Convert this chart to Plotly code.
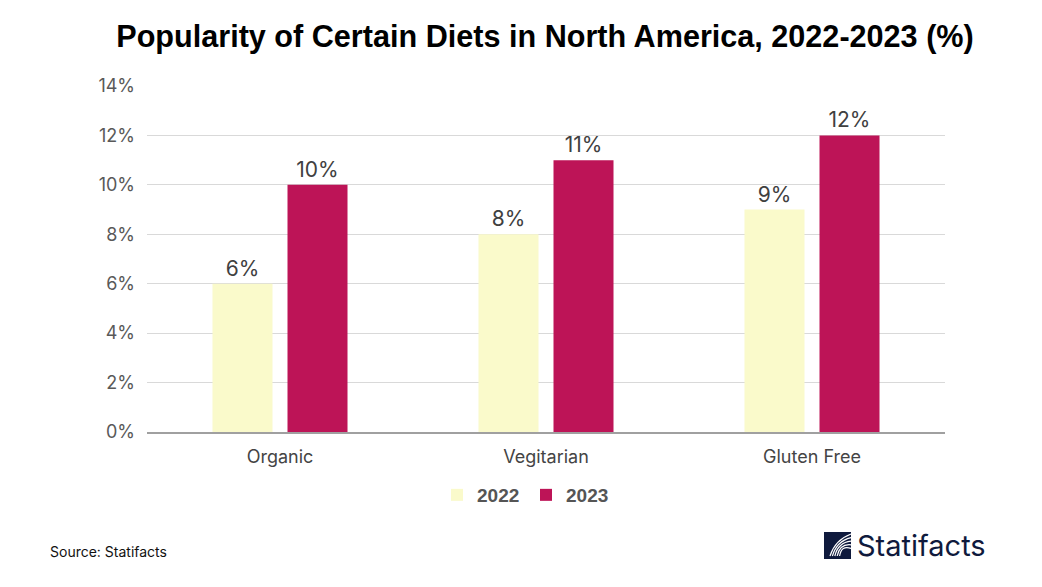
import plotly.graph_objects as go

categories = ["Organic", "Vegitarian", "Gluten Free"]
values_2022 = [6, 8, 9]
values_2023 = [10, 11, 12]
series_names = ["2022", "2023"]
tick_vals = [0, 2, 4, 6, 8, 10, 12, 14]
tick_text = ["0%", "2%", "4%", "6%", "8%", "10%", "12%", "14%"]

c2022 = "#FAFACB"
c2023 = "#BD1457"

# plot area in reference pixels (page has an 8px body offset)
PL, PR, PT, PB = 147, 945, 86, 432
OFF = 8
PW, PH = PR - PL, PB - PT

fig = go.Figure()
for name, vals, col in [(series_names[0], values_2022, c2022), (series_names[1], values_2023, c2023)]:
    fig.add_trace(go.Bar(
        x=categories, y=vals, name=name, marker=dict(color=col, line=dict(width=0)),
        text=[f"{v}%" for v in vals], textposition="outside",
        textfont=dict(family="Inter, Arial, sans-serif", size=21, color="#404040"),
        cliponaxis=False,
    ))

fig.update_layout(
    width=1042, height=587,
    margin=dict(l=PL - OFF, r=1042 - PR + OFF, t=PT - OFF, b=587 - PB + OFF),
    paper_bgcolor="white", plot_bgcolor="white",
    barmode="group", bargap=0.436, bargroupgap=0.2,
    title=dict(text="Popularity of Certain Diets in North America, 2022-2023 (%)",
               x=(545 - OFF) / 1042, xanchor="center", y=1 - (36 - OFF) / 587, yanchor="middle",
               font=dict(family="Liberation Sans, Arial, sans-serif", size=30.6, color="#000000", weight="bold")),
    xaxis=dict(showgrid=False, showline=True, linecolor="#a0a0a0", linewidth=1.5, ticks="",
               tickfont=dict(family="Inter, Arial, sans-serif", size=18, color="#444444")),
    yaxis=dict(range=[0, 14], tickvals=tick_vals, ticktext=tick_text, showgrid=True,
               gridcolor="#d9d9d9", gridwidth=1, zeroline=False, showline=False, ticks="",
               ticklen=0, tickfont=dict(family="Inter, Arial, sans-serif", size=18, color="#595959")),
    legend=dict(orientation="h", x=(526 - PL) / PW, xanchor="center", y=-(495 - PB) / PH, yanchor="middle",
                font=dict(family="Liberation Sans, Arial, sans-serif", size=19, color="#555555", weight="bold"),
                itemwidth=30, entrywidth=44, entrywidthmode="pixels", traceorder="normal"),
    showlegend=True,
)
fig.update_xaxes(ticklabelstandoff=8)
fig.update_yaxes(ticklabelstandoff=11)

fig.add_annotation(text="Source: Statifacts", xref="paper", yref="paper",
                   x=(48 - PL) / PW, xanchor="left", y=-(551 - PB) / PH, yanchor="middle",
                   showarrow=False, font=dict(family="Inter, Arial, sans-serif", size=14, color="#111111"))

# logo
fig.add_annotation(text="Statifacts", xref="paper", yref="paper",
                   x=(855 - PL) / PW, xanchor="left", y=-(545 - PB) / PH, yanchor="middle",
                   showarrow=False, font=dict(family="Inter, Arial, sans-serif", size=29, color="#0f1a3d"))
fig.add_shape(type="rect", xref="paper", yref="paper",
              x0=(824 - PL) / PW, x1=(851 - PL) / PW, y0=-(559 - PB) / PH, y1=-(532 - PB) / PH,
              fillcolor="#0f1a3d", line=dict(width=0), layer="above")
for i in range(5):
    off = i * 4
    fig.add_shape(type="path", xref="paper", yref="paper",
                  path=(f"M {(830 + off * 0.6 - PL) / PW},{-(556 - PB) / PH} "
                        f"Q {(835 + off * 0.4 - PL) / PW},{-(540 + off * 0.3 - PB) / PH} "
                        f"{(851 - PL) / PW},{-(534 + off * 0.9 - PB) / PH}"),
                  line=dict(color="white", width=1.2), layer="above")

fig.write_html("out.html")
